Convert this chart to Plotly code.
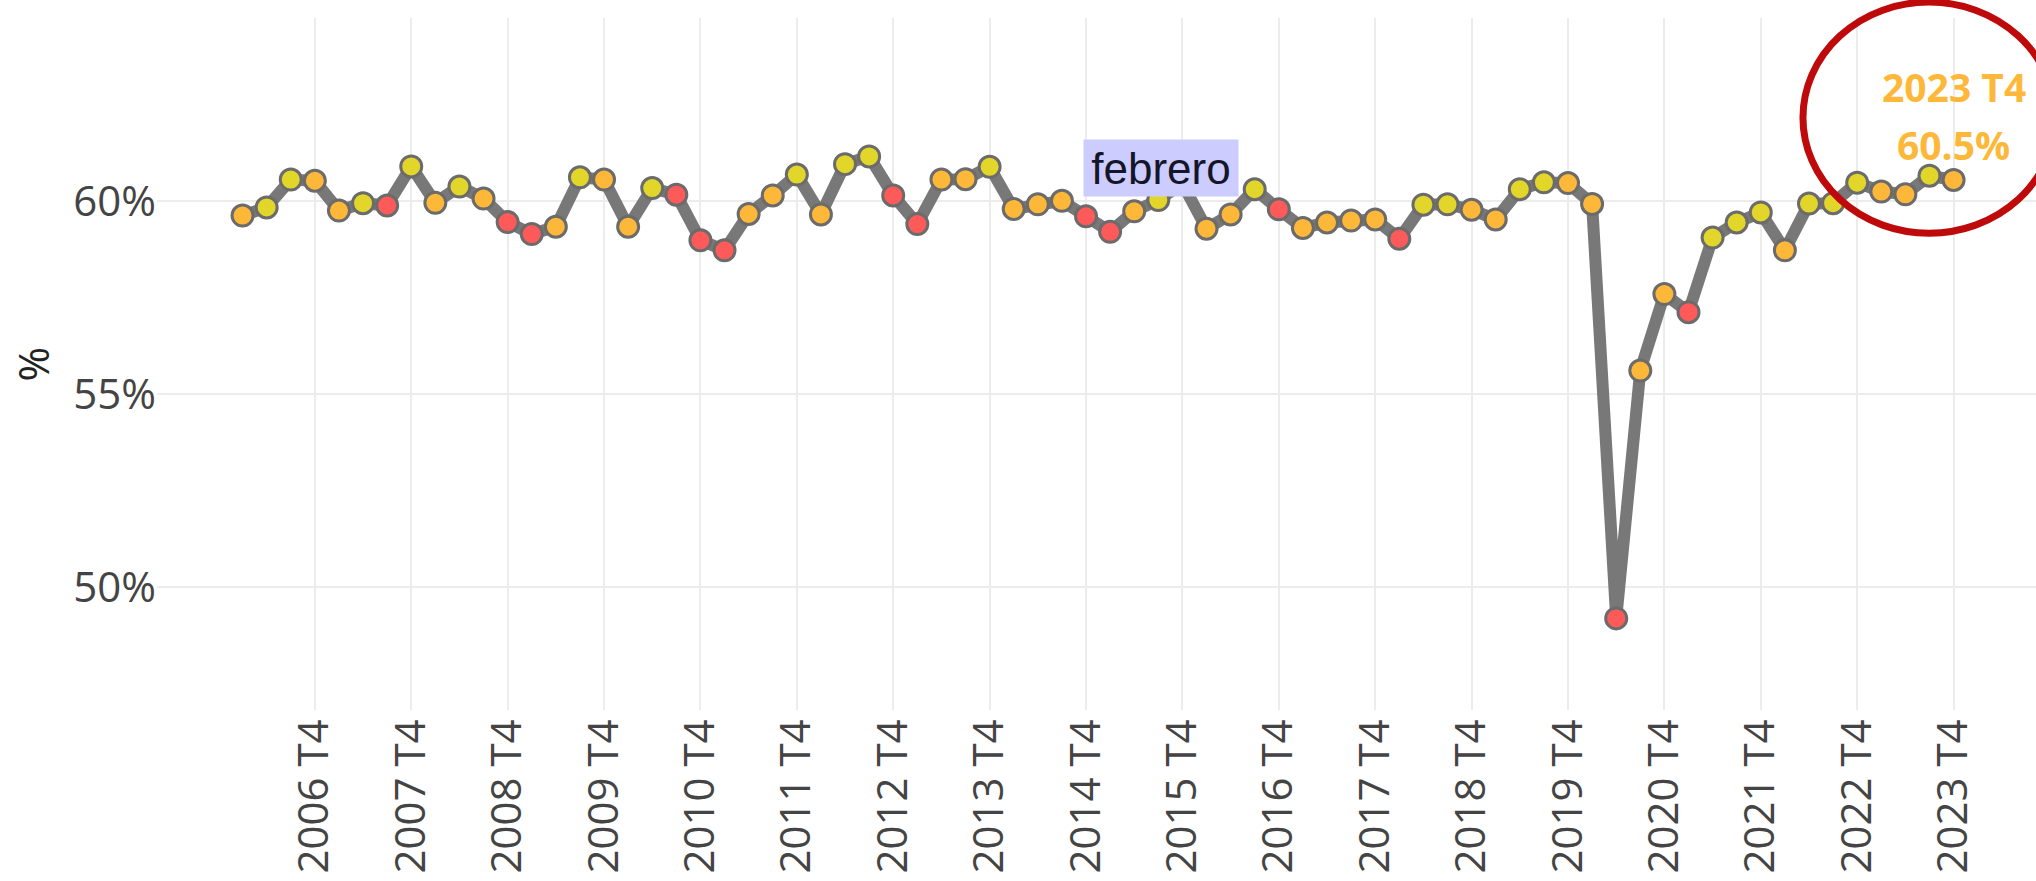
import plotly.graph_objects as go

# ---- data ----
years = list(range(2006, 2024))
quarters = ["T1", "T2", "T3", "T4"]
periods = [f"{y} {q}" for y in years for q in quarters]

rate = [
    59.62, 59.83, 60.55, 60.52,   # 2006
    59.75, 59.94, 59.88, 60.89,   # 2007
    59.95, 60.37, 60.06, 59.45,   # 2008
    59.14, 59.33, 60.61, 60.55,   # 2009
    59.33, 60.33, 60.16, 58.98,   # 2010
    58.72, 59.66, 60.14, 60.68,   # 2011
    59.65, 60.95, 61.15, 60.14,   # 2012
    59.40, 60.55, 60.56, 60.88,   # 2013
    59.79, 59.91, 60.00, 59.60,   # 2014
    59.20, 59.73, 60.02, 60.45,   # 2015
    59.28, 59.65, 60.30, 59.78,   # 2016
    59.30, 59.44, 59.49, 59.52,   # 2017
    59.02, 59.90, 59.91, 59.77,   # 2018
    59.52, 60.30, 60.48, 60.46,   # 2019
    59.92, 49.20, 55.61, 57.59,   # 2020
    57.12, 59.05, 59.44, 59.70,   # 2021
    58.72, 59.93, 59.94, 60.47,   # 2022
    60.24, 60.17, 60.65, 60.54,   # 2023
]

# point class: Y = up, O = mixed, R = down
trend = [
    "O", "Y", "Y", "O",
    "O", "Y", "R", "Y",
    "O", "Y", "O", "R",
    "R", "O", "Y", "O",
    "O", "Y", "R", "R",
    "R", "O", "O", "Y",
    "O", "Y", "Y", "R",
    "R", "O", "O", "Y",
    "O", "O", "O", "R",
    "R", "O", "Y", "Y",
    "O", "O", "Y", "R",
    "O", "O", "O", "O",
    "R", "Y", "Y", "O",
    "O", "Y", "Y", "O",
    "O", "R", "O", "O",
    "R", "Y", "Y", "Y",
    "O", "Y", "Y", "Y",
    "O", "O", "Y", "O",
]

tick_labels = [f"{y} T4" for y in years]
y_ticks = [50, 55, 60]
y_tick_text = ["50%", "55%", "60%"]

palette = {"Y": "#E3D62B", "O": "#FDB839", "R": "#FF5A5A"}
marker_colors = [palette[t] for t in trend]

fig = go.Figure()
fig.add_trace(go.Scatter(
    x=periods,
    y=rate,
    mode="lines+markers",
    line=dict(color="#787878", width=12),
    marker=dict(size=21, color=marker_colors, line=dict(color="#6b6b6b", width=3)),
    hoverinfo="x+y",
    showlegend=False,
))

last_x = periods[-1]
last_y = rate[-1]

fig.add_annotation(
    x=last_x, y=last_y, text="<b>2023 T4</b>", showarrow=False,
    yanchor="middle", yshift=93,
    font=dict(family="Open Sans", size=39, color="#FDB839"),
)
fig.add_annotation(
    x=last_x, y=last_y, text=f"<b>{last_y:.1f}%</b>", showarrow=False,
    yanchor="middle", yshift=35,
    font=dict(family="Open Sans", size=39, color="#FDB839"),
)

fig.add_annotation(
    x=38.11, y=60.84, text="febrero", showarrow=False,
    xanchor="center", yanchor="middle",
    width=146, height=48,
    bgcolor="#CCCCFF", borderpad=4,
    font=dict(family="Liberation Sans", size=44, color="#15152a"),
)

fig.add_shape(
    type="circle", xref="x", yref="paper",
    x0=64.75, x1=75.22, y0=0.689, y1=1.023,
    line=dict(color="#BE0A0A", width=7),
)

fig.update_layout(
    width=2036, height=881,
    margin=dict(l=157, r=0, t=18, b=171, autoexpand=False),
    paper_bgcolor="white", plot_bgcolor="white",
    hovermode=False,
    font=dict(family="Open Sans", size=42, color="#444"),
)
fig.update_xaxes(
    type="category",
    categoryorder="array", categoryarray=periods,
    range=[-3.55, 74.42],
    tickvals=tick_labels, ticktext=tick_labels,
    tickangle=-90,
    showgrid=True, gridcolor="#ececec", gridwidth=2,
    showline=False, zeroline=False, ticks="",
    automargin=False,
    tickfont=dict(size=42, color="#444"),
)
fig.update_yaxes(
    range=[46.83, 64.73],
    tickvals=y_ticks, ticktext=y_tick_text,
    showgrid=True, gridcolor="#ececec", gridwidth=2,
    zeroline=False, showline=False, ticks="",
    automargin=False,
    tickfont=dict(size=42, color="#444"),
    title=dict(text="%", font=dict(size=42, color="#222"), standoff=10),
)

fig.write_html(
    "out.html",
    config={"displayModeBar": False},
    post_script="document.body.style.margin='0';document.body.style.overflow='hidden';",
)
